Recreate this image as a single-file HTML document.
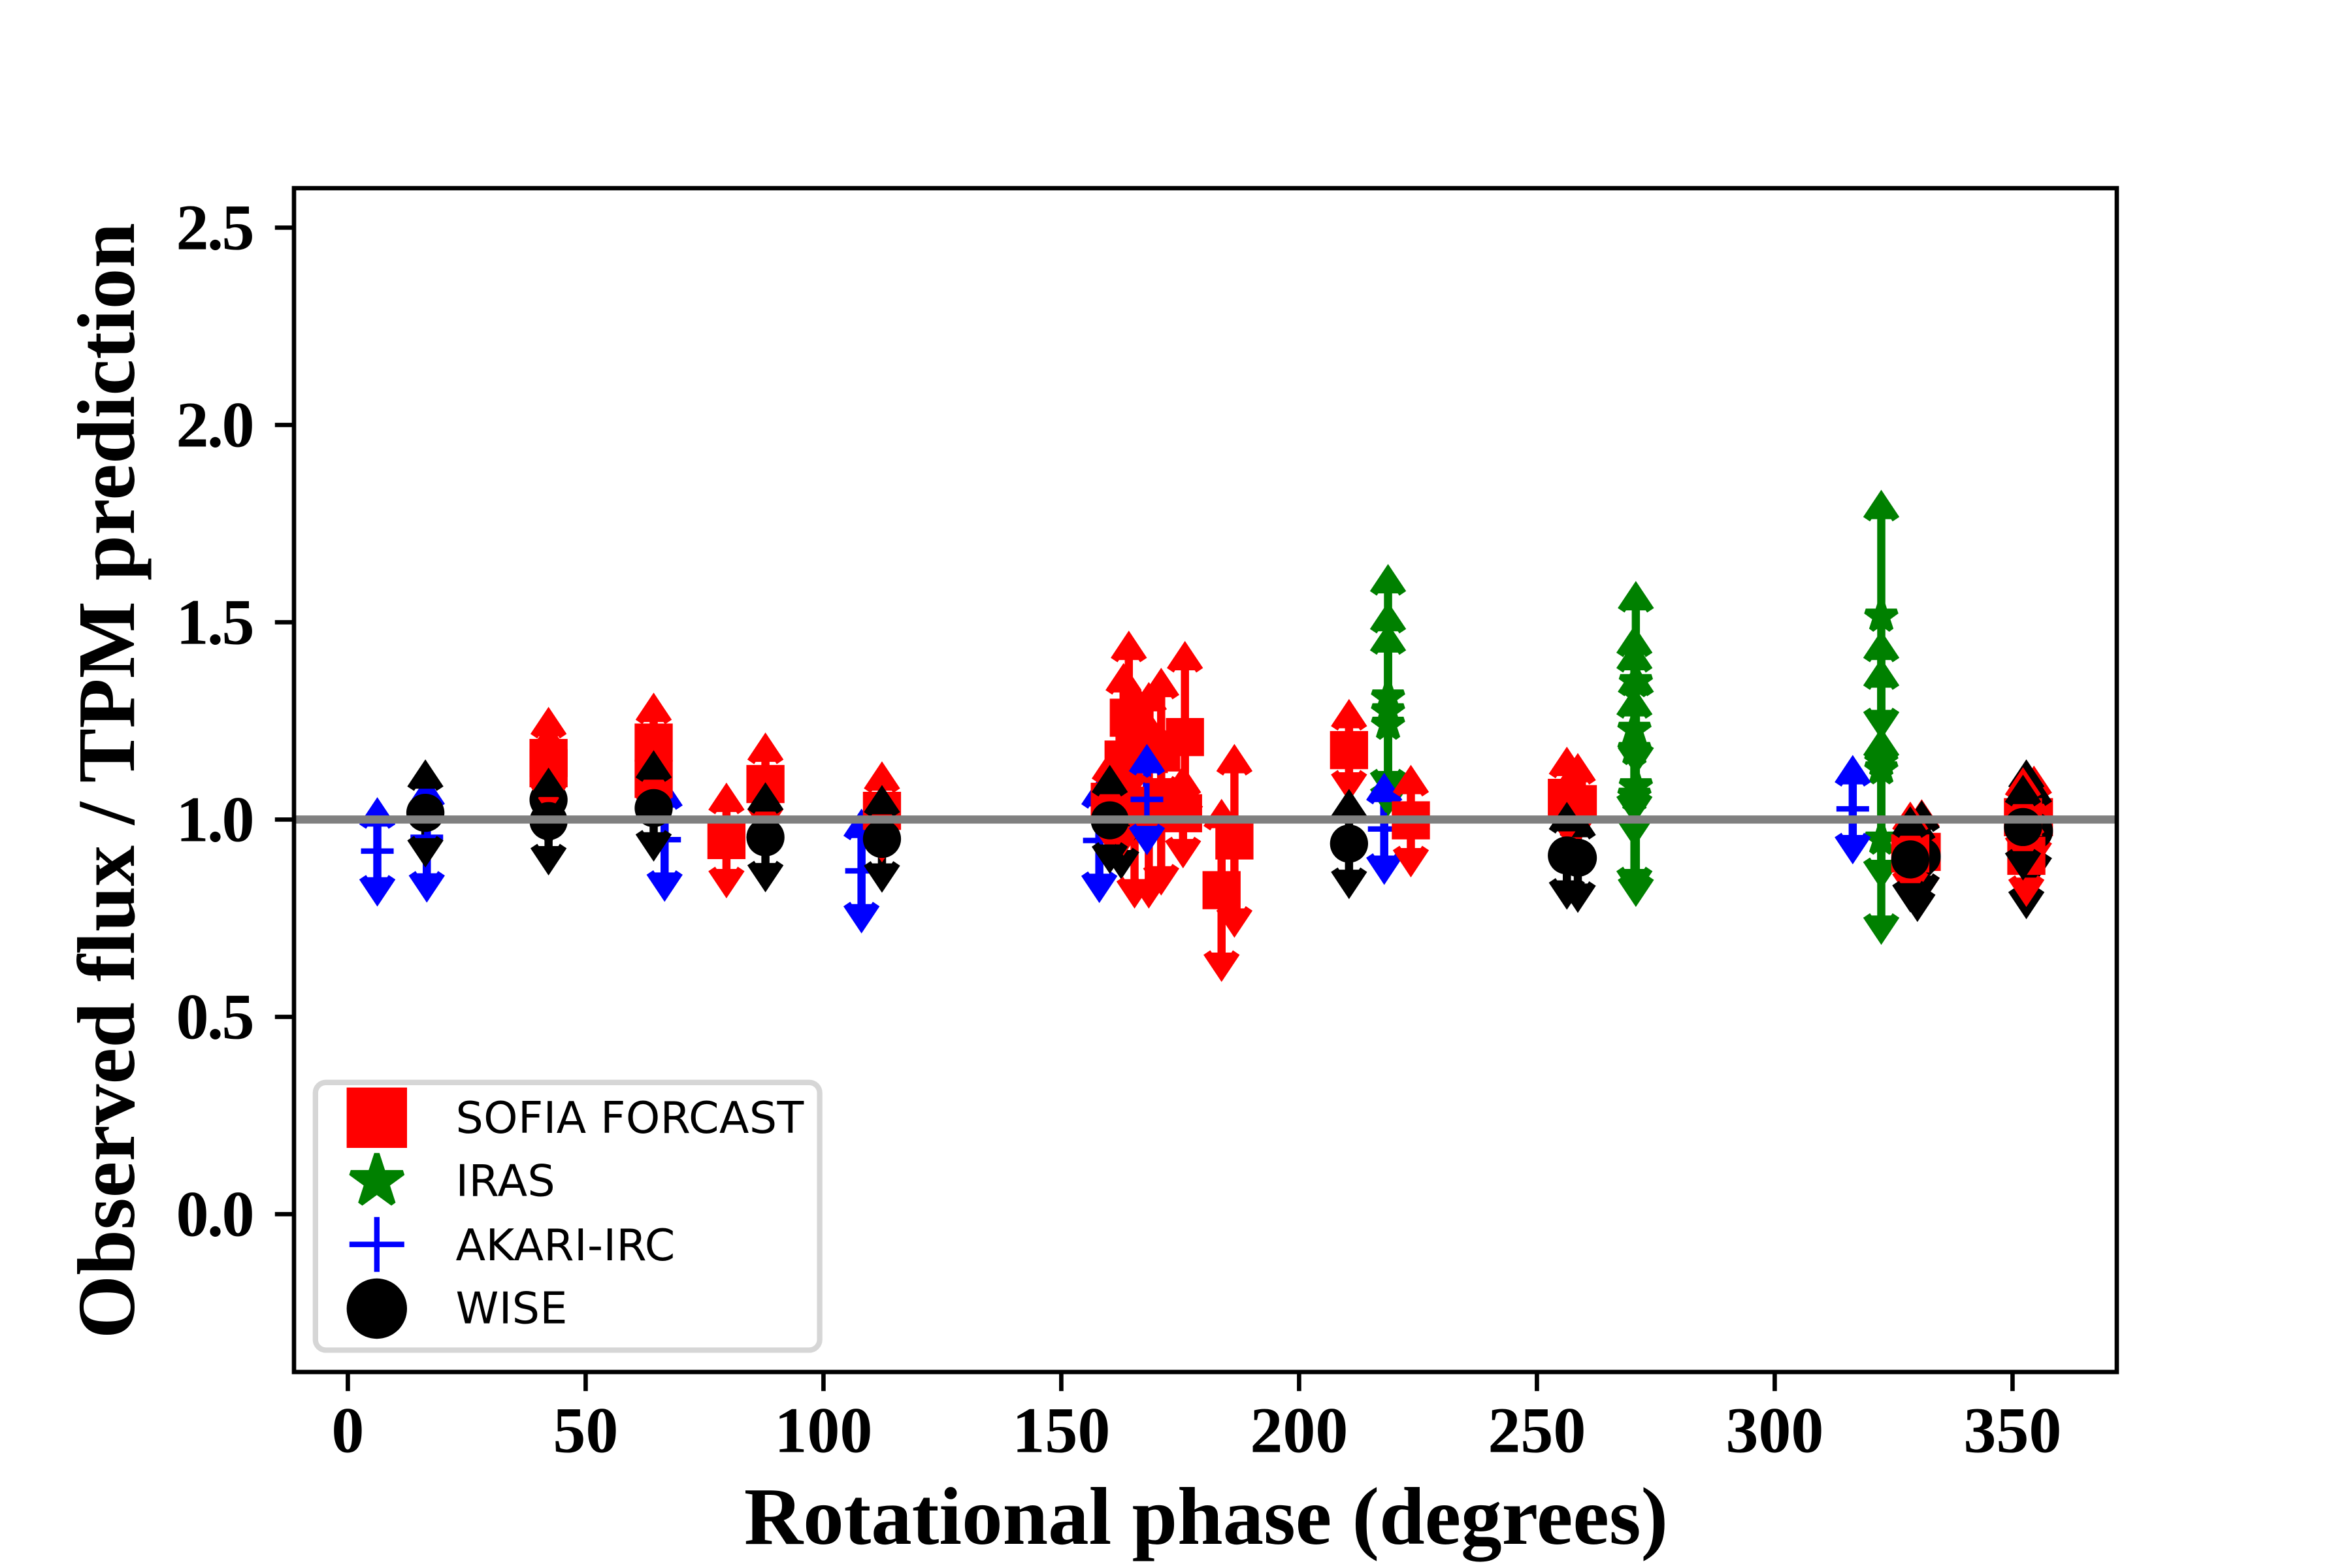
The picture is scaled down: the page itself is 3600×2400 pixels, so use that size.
<!DOCTYPE html>
<html lang="en">
<head>
<meta charset="utf-8">
<title>Observed flux / TPM prediction vs rotational phase</title>
<style>
  html, body { margin: 0; padding: 0; background: #ffffff; }
  svg { display: block; }
  .serif { font-family: "Liberation Serif", "Times New Roman", serif; font-weight: bold; fill: #000; }
  .legend-text { font-family: "DejaVu Sans", "Liberation Sans", sans-serif; font-size: 66.67px; letter-spacing: 0.35px; fill: #000; }
</style>
</head>
<body>
<svg id="chart" xmlns="http://www.w3.org/2000/svg" width="3600" height="2400" viewBox="0 0 3600 2400">
  <rect x="0" y="0" width="3600" height="2400" fill="#ffffff"></rect>
  <g id="stems"></g>
  <g id="marks"></g>
  <g id="refline"></g>
  <g id="ticks"></g>
  <rect x="450" y="288" width="2790" height="1812" fill="none" stroke="#000" stroke-width="6.67"></rect>
  <text class="serif" x="1846" y="2363" font-size="125" text-anchor="middle">Rotational phase (degrees)</text>
  <text class="serif" x="0" y="0" font-size="125" letter-spacing="0.15" text-anchor="middle" transform="translate(205 1195) rotate(-90)">Observed flux / TPM prediction</text>
  <g>
    <rect x="482.8" y="1656.8" width="771.8" height="409.7" rx="16" ry="16" fill="#ffffff" stroke="#d6d6d6" stroke-width="8.33"></rect>
    <g>
      <rect x="530.6" y="1664.6" width="92.4" height="92.4" fill="#ff0000"></rect>
      <text class="legend-text" x="697.5" y="1734">SOFIA FORCAST</text>
    </g>
    <g>
      <polygon id="legend-star" fill="#008000" stroke="#008000" stroke-width="8.33" stroke-linejoin="bevel" points=""></polygon>
      <text class="legend-text" x="697.5" y="1830.7">IRAS</text>
    </g>
    <g>
      <path d="M534.8 1904.7H618.8M576.8 1862.7V1946.7" fill="none" stroke="#0000ff" stroke-width="8.33"></path>
      <text class="legend-text" x="697.5" y="1929">AKARI-IRC</text>
    </g>
    <g>
      <circle cx="576.8" cy="2003" r="46.2" fill="#000000"></circle>
      <text class="legend-text" x="697.5" y="2025.7">WISE</text>
    </g>
  </g>
</svg>
<script>
// ---- tick labels ----
const xTickValues = [0, 50, 100, 150, 200, 250, 300, 350];
const yTickValues = [0.0, 0.5, 1.0, 1.5, 2.0, 2.5];
const referenceFlux = [1.0];

// ---- IRAS ----
const irasPhase = [218.7, 218.7, 218.7, 270.8, 270.5, 270.5, 270.8, 270.5, 322.4, 322.4, 322.4, 322.4];
const irasFlux  = [1.310, 1.275, 1.241, 1.349, 1.228, 1.177, 1.085, 1.061, 1.515, 1.148, 1.128, 0.950];
const irasHigh  = [1.629, 1.533, 1.479, 1.586, 1.434, 1.473, 1.374, 1.317, 1.817, 1.460, 1.390, 1.214];
const irasLow   = [1.067, 1.026, 1.067, 1.131, 1.007, 0.949, 0.797, 0.819, 1.222, 0.842, 0.842, 0.701];

// ---- AKARI-IRC (drawn beneath SOFIA) ----
const akariPhase = [6.2, 16.6, 66.6, 108.0, 158.0, 217.9, 316.4];
const akariFlux  = [0.920, 0.955, 0.949, 0.870, 0.947, 0.976, 1.027];
const akariHigh  = [1.038, 1.090, 1.086, 1.009, 1.089, 1.100, 1.145];
const akariLow   = [0.798, 0.808, 0.810, 0.730, 0.807, 0.853, 0.905];

// ---- AKARI-IRC (drawn above SOFIA) ----
const akariTopPhase = [168.0];
const akariTopFlux  = [1.051];
const akariTopHigh  = [1.173];
const akariTopLow   = [0.928];

// ---- SOFIA FORCAST (drawn beneath the rear WISE points) ----
const sofiaBackPhase = [258.6, 330.9, 354.5];
const sofiaBackFlux  = [1.039, 0.918, 1.006];
const sofiaBackHigh  = [1.150, 1.033, 1.118];
const sofiaBackLow   = [0.956, 0.802, 0.889];

// ---- WISE (drawn beneath the main SOFIA points) ----
const wiseBackPhase = [42.2, 162.6, 258.6, 330.9, 330.0, 354.5, 352.9];
const wiseBackFlux  = [1.050, 0.983, 0.903, 0.906, 0.895, 0.971, 0.950];
const wiseBackHigh  = [1.154, 1.100, 1.011, 1.030, 1.005, 1.096, 1.134];
const wiseBackLow   = [0.950, 0.867, 0.782, 0.802, 0.759, 0.852, 0.766];

// ---- SOFIA FORCAST ----
const sofiaPhase = [42.2, 42.2, 64.3, 64.3, 79.6, 87.8, 112.3, 160.2, 163.1, 164.2, 165.4, 165.4, 168.4, 168.4, 171.0, 171.0, 176.0, 175.6, 186.4, 183.7, 210.5, 223.5, 256.3, 328.5, 352.2, 352.9];
const sofiaFlux  = [1.156, 1.130, 1.195, 1.103, 0.948, 1.090, 1.022, 1.045, 1.152, 1.258, 1.035, 1.227, 1.166, 1.024, 1.170, 1.024, 1.209, 1.016, 0.947, 0.821, 1.176, 0.998, 1.055, 0.914, 1.006, 0.908];
const sofiaHigh  = [1.267, 1.227, 1.303, 1.212, 1.075, 1.202, 1.129, 1.154, 1.378, 1.460, 1.277, 1.333, 1.330, 1.257, 1.366, 1.224, 1.434, 1.119, 1.173, 1.034, 1.287, 1.120, 1.166, 1.027, 1.114, 1.018];
const sofiaLow   = [1.044, 1.033, 1.087, 1.006, 0.819, 0.976, 0.910, 0.935, 0.927, 1.056, 0.793, 1.120, 1.002, 0.793, 1.049, 0.826, 0.983, 0.895, 0.719, 0.607, 1.064, 0.872, 0.956, 0.811, 0.902, 0.797];

// ---- WISE (drawn on top) ----
const wisePhase = [16.3, 42.2, 64.3, 87.8, 112.3, 160.2, 210.5, 256.3, 328.5, 352.2];
const wiseFlux  = [1.017, 0.996, 1.029, 0.955, 0.951, 0.998, 0.939, 0.909, 0.899, 0.981];
const wiseHigh  = [1.134, 1.113, 1.157, 1.076, 1.069, 1.120, 1.059, 1.026, 1.015, 1.095];
const wiseLow   = [0.897, 0.877, 0.912, 0.834, 0.833, 0.881, 0.817, 0.790, 0.783, 0.864];

// ---- axes ----
const PLOT = { left: 450, right: 3240, top: 288, bottom: 2100 };
const X_MIN = -11.32, X_MAX = 371.92, Y_MIN = -0.4, Y_MAX = 2.6;
function xScale(v) { return PLOT.left + (v - X_MIN) / (X_MAX - X_MIN) * (PLOT.right - PLOT.left); }
function yScale(v) { return PLOT.bottom - (v - Y_MIN) / (Y_MAX - Y_MIN) * (PLOT.bottom - PLOT.top); }

const SVG_NS = 'http://www.w3.org/2000/svg';
function make(tag, parent, attrs) {
  const el = document.createElementNS(SVG_NS, tag);
  for (const k in attrs) el.setAttribute(k, attrs[k]);
  parent.appendChild(el);
  return el;
}

const stemsLayer = document.getElementById('stems');
const marksLayer = document.getElementById('marks');
const ticksLayer = document.getElementById('ticks');
const refLayer = document.getElementById('refline');

const CAP_W = 22.5, CAP_H = 33.75, STEM = 12.5, EDGE = 8.33, MARK_HALF = 25;

function starPoints(cx, cy, R) {
  const r = R * 0.381966, pts = [];
  for (let i = 0; i < 10; i++) {
    const rad = i % 2 === 0 ? R : r;
    const a = -Math.PI / 2 + i * Math.PI / 5;
    pts.push((cx + rad * Math.cos(a)).toFixed(2) + ',' + (cy + rad * Math.sin(a)).toFixed(2));
  }
  return pts.join(' ');
}
document.getElementById('legend-star').setAttribute('points', starPoints(576.8, 1808, 42));

function drawMarker(kind, color, x, y) {
  let m;
  if (kind === 'square') {
    m = make('rect', marksLayer, { x: x - MARK_HALF - EDGE / 2, y: y - MARK_HALF - EDGE / 2, width: 2 * MARK_HALF + EDGE, height: 2 * MARK_HALF + EDGE, fill: color });
    
    
  } else if (kind === 'star') {
    m = make('polygon', marksLayer, { points: starPoints(x, y, MARK_HALF), fill: color, stroke: color, 'stroke-width': EDGE, 'stroke-linejoin': 'bevel' });
    
    
  } else if (kind === 'plus') {
    m = make('path', marksLayer, { d: 'M' + (x - MARK_HALF) + ' ' + y + 'H' + (x + MARK_HALF) + 'M' + x + ' ' + (y - MARK_HALF) + 'V' + (y + MARK_HALF), fill: 'none', stroke: color, 'stroke-width': EDGE });
    
    
  } else {
    m = make('circle', marksLayer, { cx: x, cy: y, r: MARK_HALF + EDGE / 2, fill: color });
    
    
  }
}

function drawCap(color, x, y, dir) {
  const pts = (x - CAP_W) + ',' + (y + dir * CAP_H) + ' ' + x + ',' + y + ' ' + (x + CAP_W) + ',' + (y + dir * CAP_H);
  const c = make('polyline', marksLayer, { points: pts, fill: color, stroke: color, 'stroke-width': STEM, 'stroke-linejoin': 'miter', 'stroke-miterlimit': 10, 'stroke-linecap': 'butt' });
  
  
}

function drawStems(color, phase, high, low) {
  phase.forEach(function (p, i) {
    const s = make('line', stemsLayer, { x1: xScale(p), x2: xScale(p), y1: yScale(high[i]), y2: yScale(low[i]), stroke: color, 'stroke-width': STEM });
    
    
  });
}

function drawSeries(kind, color, phase, flux, high, low) {
  phase.forEach(function (p, i) { drawMarker(kind, color, xScale(p), yScale(flux[i])); });
  phase.forEach(function (p, i) {
    drawCap(color, xScale(p), yScale(high[i]), 1);
    drawCap(color, xScale(p), yScale(low[i]), -1);
  });
}

// stems are painted first, beneath every marker
drawStems('#ff0000', sofiaBackPhase, sofiaBackHigh, sofiaBackLow);
drawStems('#ff0000', sofiaPhase, sofiaHigh, sofiaLow);
drawStems('#008000', irasPhase, irasHigh, irasLow);
drawStems('#0000ff', akariPhase, akariHigh, akariLow);
drawStems('#0000ff', akariTopPhase, akariTopHigh, akariTopLow);
drawStems('#000000', wiseBackPhase, wiseBackHigh, wiseBackLow);
drawStems('#000000', wisePhase, wiseHigh, wiseLow);

// markers and arrowheads
drawSeries('star', '#008000', irasPhase, irasFlux, irasHigh, irasLow);
drawSeries('plus', '#0000ff', akariPhase, akariFlux, akariHigh, akariLow);
drawSeries('square', '#ff0000', sofiaBackPhase, sofiaBackFlux, sofiaBackHigh, sofiaBackLow);
drawSeries('circle', '#000000', wiseBackPhase, wiseBackFlux, wiseBackHigh, wiseBackLow);
drawSeries('square', '#ff0000', sofiaPhase, sofiaFlux, sofiaHigh, sofiaLow);
drawSeries('plus', '#0000ff', akariTopPhase, akariTopFlux, akariTopHigh, akariTopLow);
drawSeries('circle', '#000000', wisePhase, wiseFlux, wiseHigh, wiseLow);

// reference line at unity
referenceFlux.forEach(function (v) {
  const l = make('line', refLayer, { x1: PLOT.left, x2: PLOT.right, y1: yScale(v), y2: yScale(v), stroke: '#808080', 'stroke-width': 12.5 });
  
  
});

// x ticks
xTickValues.forEach(function (v) {
  const t = make('line', ticksLayer, { x1: xScale(v), x2: xScale(v), y1: PLOT.bottom, y2: PLOT.bottom + 29.2, stroke: '#000', 'stroke-width': 6.67 });
  
  
  const lab = make('text', ticksLayer, { x: xScale(v), y: 2222.5, 'font-size': 100, 'text-anchor': 'middle', class: 'serif' });
  lab.textContent = String(v);
  
  
});

// y ticks
yTickValues.forEach(function (v) {
  const t = make('line', ticksLayer, { x1: PLOT.left - 29.2, x2: PLOT.left, y1: yScale(v), y2: yScale(v), stroke: '#000', 'stroke-width': 6.67 });
  
  
  const lab = make('text', ticksLayer, { x: 387, y: yScale(v) + 33, 'font-size': 100, 'letter-spacing': -2.5, 'text-anchor': 'end', class: 'serif' });
  lab.textContent = v.toFixed(1);
  
  
});
</script>
</body>
</html>
